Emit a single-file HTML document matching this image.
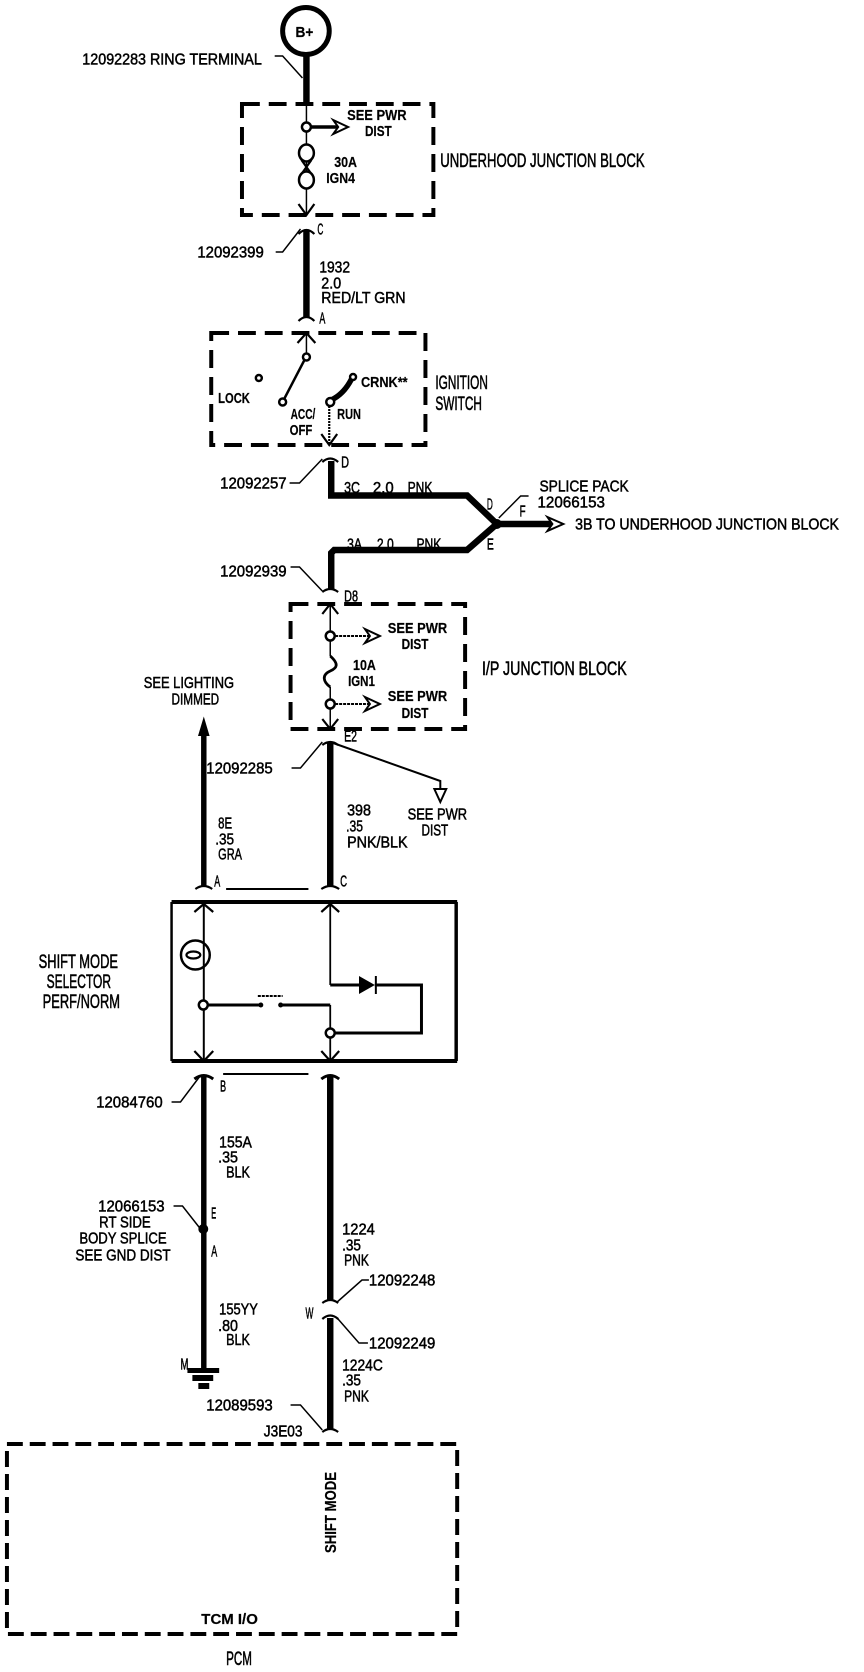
<!DOCTYPE html>
<html><head><meta charset="utf-8"><style>
html,body{margin:0;padding:0;background:#fff}
svg{display:block}
text{font-family:"Liberation Sans",sans-serif;fill:#000}
.n text{font-size:15.5px;stroke:#000;stroke-width:.5}
.l text{font-size:19.5px;stroke:#000;stroke-width:.55}
.b text{font-size:15px;font-weight:bold;stroke:#000;stroke-width:.2}
.w{stroke:#000;stroke-width:6.5;fill:none}
.m{stroke:#000;stroke-width:3;fill:none}
.t{stroke:#000;stroke-width:1.5;fill:none}
.c{stroke:#000;stroke-width:2.2;fill:none}
.d{stroke:#000;stroke-width:4;fill:none;stroke-dasharray:18 9}
.o{stroke:#000;stroke-width:2.5;fill:#fff}
.h{stroke:#000;stroke-width:2;fill:#fff}
</style></head><body>
<svg width="864" height="1672" viewBox="0 0 864 1672" xmlns="http://www.w3.org/2000/svg">
<rect width="864" height="1672" fill="#fff"/>
<g transform="scale(.9917 1)">

<!-- boxes -->
<rect x="244" y="104" width="193" height="111" class="d"/>
<rect x="213" y="333" width="216" height="112" class="d"/>
<rect x="293" y="604" width="176" height="125" class="d"/>
<rect x="7" y="1444" width="454" height="190" class="d" style="stroke-dasharray:16 7"/>
<path d="M173 902H461" stroke="#000" stroke-width="4"/>
<path d="M173 1061H461" stroke="#000" stroke-width="4"/>
<path d="M460 902V1061" stroke="#000" stroke-width="3.5"/>
<path d="M173 902V1061" stroke="#000" stroke-width="2.5"/>

<!-- top -->
<circle cx="308.5" cy="31" r="23.5" fill="#fff" stroke="#000" stroke-width="5"/>
<path class="w" d="M309 55V105"/>
<path class="t" d="M277 56H285L305 78"/>
<path class="t" d="M309 104V216"/>
<path class="c" d="M301 204L309 215L317 204"/>
<circle cx="309" cy="127" r="4.5" class="o"/>
<path class="m" style="stroke-width:3.5" d="M314 127H340"/>
<path class="h" d="M336 120L351 127L336 134L341 127Z"/>
<path class="c" d="M304 160L314 174M314 160L304 174"/>
<ellipse cx="309" cy="153" rx="7.5" ry="8.5" class="o"/>
<ellipse cx="309" cy="180" rx="7.5" ry="8.5" class="o"/>

<!-- 1932 -->
<path class="w" d="M309 231V318"/>
<path class="c" d="M301 234Q309 226 317 234M301 321Q309 313 317 321"/>
<path class="t" d="M278 252H285L303 229"/>

<!-- ignition -->
<path class="t" d="M309 334V357"/>
<path class="c" d="M300 343L309 333L318 343"/>
<path class="m" style="stroke-width:2.5" d="M307 360L286 400"/>
<circle cx="309" cy="357" r="3.5" class="o"/>
<circle cx="285" cy="402" r="3.5" class="o"/>
<circle cx="261" cy="378" r="3" class="o"/>
<path class="w" style="stroke-width:5.5" d="M334 400Q347 394 355 378"/>
<circle cx="333" cy="402" r="4" class="o"/>
<circle cx="356" cy="377" r="3" class="o"/>
<path class="t" style="stroke-width:2.2" stroke-dasharray="2 1" d="M332 406V445"/>
<path class="c" d="M324 434L332 445L340 434"/>

<!-- 3C / 3A splice -->
<path class="w" d="M334 461V495.5H471L501 524L471 550H337L334 553V590"/>
<path class="w" d="M501 524H556"/>
<circle cx="501" cy="524" r="5" fill="#000"/>
<path class="h" d="M552 517L568 524L552 531L557 524Z"/>
<path class="c" d="M325 462Q333 455 341 462"/>
<path class="t" d="M292 483H302L325 459"/>
<path class="t" d="M533 496H525L503 518"/>
<path class="c" d="M325 592Q333 586 341 592"/>
<path class="t" d="M293 567H302L325 591"/>

<!-- I/P block -->
<path class="t" d="M333 605V656M333 687V729"/>
<path class="c" d="M325 614L333 604L341 614M325 719L333 729L341 719"/>
<circle cx="333" cy="636" r="4.5" class="o"/>
<circle cx="333" cy="704" r="4.5" class="o"/>
<path class="t" style="stroke-width:2" d="M338 636H372M338 704H372" stroke-dasharray="3 1"/>
<path class="h" d="M368 629L383 636L368 643L373 636ZM368 697L383 704L368 711L373 704Z"/>
<path class="t" style="stroke-width:2.8" d="M333 656C342 664 340 668 333 671C324 675 326 682 333 687"/>

<!-- wires mid -->
<path class="w" d="M333 743V886"/>
<path class="c" d="M325 745Q333 739 341 745M324 889Q333 883 342 889"/>
<path class="t" d="M294 768H303L325 742"/>
<path class="t" style="stroke-width:2" d="M333 742L444 781V790"/>
<path class="h" d="M438 789H450L444 802Z"/>
<path class="w" style="stroke-width:5.5" d="M205.5 733V886"/>
<path class="h" style="fill:#000" d="M205.5 720L201 735H210Z"/>
<path class="c" d="M197 889Q205.5 883 214 889"/>
<path class="m" d="M228 889H311" style="stroke-width:2"/>

<!-- selector internals -->
<path class="t" style="stroke-width:2" d="M205.5 903V1061"/>
<path class="c" d="M196 912L205.5 904L215 912M196 1051L205.5 1061L215 1051"/>
<path class="t" style="stroke-width:1.8" d="M333 904V985M333 1005V1061"/>
<path class="c" d="M324 912L333 904L342 912M324 1051L333 1061L342 1051"/>
<circle cx="197" cy="955" r="14.5" fill="none" stroke="#000" stroke-width="2.5"/>
<ellipse cx="195" cy="955" rx="7" ry="3.5" fill="none" stroke="#000" stroke-width="2.2"/>
<circle cx="205" cy="1005" r="4.5" class="o"/>
<path class="m" d="M209 1005H262M284 1005H333"/>
<circle cx="263" cy="1005" r="2.5" fill="#000"/>
<circle cx="283" cy="1005" r="2.5" fill="#000"/>
<path class="m" stroke-dasharray="3 1" d="M260 996H285" style="stroke-width:2"/>
<path class="m" d="M333 985H362M378 985H425V1033H338"/>
<path d="M362 976L378 985L362 994Z" fill="#000"/>
<path class="m" style="stroke-width:2" d="M379 976V994"/>
<circle cx="333" cy="1033" r="4.5" class="o"/>

<!-- lower wires -->
<path class="w" style="stroke-width:5.5" d="M205.5 1075V1370"/>
<path class="w" d="M333 1075V1301M333 1318V1429"/>
<path class="m" d="M196 1079Q205.5 1072 215 1079M324 1079Q333 1072 342 1079"/>
<path class="m" style="stroke-width:2" d="M225 1074H311"/>
<path class="t" d="M173 1102H182L201 1077"/>
<circle cx="205" cy="1229" r="5" fill="#000"/>
<path class="t" d="M175 1206H184L203 1230"/>
<rect x="189" y="1368" width="32" height="5" fill="#000"/>
<rect x="194" y="1375" width="21" height="6" fill="#000"/>
<rect x="200" y="1383" width="11" height="6" fill="#000"/>
<path class="c" d="M325 1303Q333 1297 341 1303M325 1319Q333 1312 341 1319M325 1432Q333 1426 341 1432"/>
<path class="t" d="M372 1280H365L340 1302"/>
<path class="t" d="M371 1343H362L340 1318"/>
<path class="t" d="M293 1405H303L325 1430"/>

<!-- regular labels -->
<g class="n">
<text x="83" y="64.5" textLength="181" lengthAdjust="spacingAndGlyphs">12092283 RING TERMINAL</text>
<text x="199" y="257.5" textLength="67" lengthAdjust="spacingAndGlyphs">12092399</text>
<text x="320" y="234.5" textLength="6" lengthAdjust="spacingAndGlyphs">C</text>
<text x="322" y="272.5" textLength="31" lengthAdjust="spacingAndGlyphs">1932</text>
<text x="324" y="288.5" textLength="20" lengthAdjust="spacingAndGlyphs">2.0</text>
<text x="324" y="303" textLength="85" lengthAdjust="spacingAndGlyphs">RED/LT GRN</text>
<text x="322" y="323.5" textLength="6" lengthAdjust="spacingAndGlyphs">A</text>
<text x="344" y="467.5" textLength="8" lengthAdjust="spacingAndGlyphs">D</text>
<text x="222" y="488.5" textLength="67" lengthAdjust="spacingAndGlyphs">12092257</text>
<text x="347" y="493" textLength="16" lengthAdjust="spacingAndGlyphs">3C</text>
<text x="376" y="493" textLength="21" lengthAdjust="spacingAndGlyphs">2.0</text>
<text x="411" y="493" textLength="25" lengthAdjust="spacingAndGlyphs">PNK</text>
<text x="491" y="509.5" textLength="6" lengthAdjust="spacingAndGlyphs">D</text>
<text x="544" y="491.5" textLength="90" lengthAdjust="spacingAndGlyphs">SPLICE PACK</text>
<text x="542" y="507.5" textLength="68" lengthAdjust="spacingAndGlyphs">12066153</text>
<text x="524" y="516.5" textLength="6" lengthAdjust="spacingAndGlyphs">F</text>
<text x="580" y="529.5" textLength="266" lengthAdjust="spacingAndGlyphs">3B TO UNDERHOOD JUNCTION BLOCK</text>
<text x="491" y="549.5" textLength="7" lengthAdjust="spacingAndGlyphs">E</text>
<text x="350" y="549.5" textLength="15" lengthAdjust="spacingAndGlyphs">3A</text>
<text x="380" y="549.5" textLength="17" lengthAdjust="spacingAndGlyphs">2.0</text>
<text x="420" y="549.5" textLength="25" lengthAdjust="spacingAndGlyphs">PNK</text>
<text x="222" y="576.5" textLength="67" lengthAdjust="spacingAndGlyphs">12092939</text>
<text x="347" y="601.5" textLength="14" lengthAdjust="spacingAndGlyphs">D8</text>
<text x="347" y="741.5" textLength="13" lengthAdjust="spacingAndGlyphs">E2</text>
<text x="208" y="773.5" textLength="67" lengthAdjust="spacingAndGlyphs">12092285</text>
<text x="145" y="688" textLength="91" lengthAdjust="spacingAndGlyphs">SEE LIGHTING</text>
<text x="173" y="704.5" textLength="48" lengthAdjust="spacingAndGlyphs">DIMMED</text>
<text x="411" y="819.5" textLength="60" lengthAdjust="spacingAndGlyphs">SEE PWR</text>
<text x="425" y="835.5" textLength="27" lengthAdjust="spacingAndGlyphs">DIST</text>
<text x="350" y="815.5" textLength="24" lengthAdjust="spacingAndGlyphs">398</text>
<text x="349" y="831.5" textLength="17" lengthAdjust="spacingAndGlyphs">.35</text>
<text x="350" y="847.5" textLength="61" lengthAdjust="spacingAndGlyphs">PNK/BLK</text>
<text x="220" y="828.5" textLength="14" lengthAdjust="spacingAndGlyphs">8E</text>
<text x="217" y="844.5" textLength="19" lengthAdjust="spacingAndGlyphs">.35</text>
<text x="220" y="859.5" textLength="24" lengthAdjust="spacingAndGlyphs">GRA</text>
<text x="216" y="886.5" textLength="6" lengthAdjust="spacingAndGlyphs">A</text>
<text x="343" y="886.5" textLength="7" lengthAdjust="spacingAndGlyphs">C</text>
<text x="222" y="1091.5" textLength="6" lengthAdjust="spacingAndGlyphs">B</text>
<text x="97" y="1107.5" textLength="67" lengthAdjust="spacingAndGlyphs">12084760</text>
<text x="221" y="1147.5" textLength="33" lengthAdjust="spacingAndGlyphs">155A</text>
<text x="220" y="1162.5" textLength="20" lengthAdjust="spacingAndGlyphs">.35</text>
<text x="228" y="1177.5" textLength="24" lengthAdjust="spacingAndGlyphs">BLK</text>
<text x="99" y="1211.5" textLength="67" lengthAdjust="spacingAndGlyphs">12066153</text>
<text x="100" y="1227.5" textLength="52" lengthAdjust="spacingAndGlyphs">RT SIDE</text>
<text x="80" y="1243.5" textLength="88" lengthAdjust="spacingAndGlyphs">BODY SPLICE</text>
<text x="76" y="1260.5" textLength="96" lengthAdjust="spacingAndGlyphs">SEE GND DIST</text>
<text x="213" y="1218.5" textLength="5" lengthAdjust="spacingAndGlyphs">E</text>
<text x="213" y="1256.5" textLength="6" lengthAdjust="spacingAndGlyphs">A</text>
<text x="221" y="1314.5" textLength="39" lengthAdjust="spacingAndGlyphs">155YY</text>
<text x="220" y="1331" textLength="20" lengthAdjust="spacingAndGlyphs">.80</text>
<text x="228" y="1345" textLength="24" lengthAdjust="spacingAndGlyphs">BLK</text>
<text x="182" y="1369.5" textLength="8" lengthAdjust="spacingAndGlyphs">M</text>
<text x="345" y="1234.5" textLength="33" lengthAdjust="spacingAndGlyphs">1224</text>
<text x="345" y="1250.5" textLength="19" lengthAdjust="spacingAndGlyphs">.35</text>
<text x="347" y="1265.5" textLength="25" lengthAdjust="spacingAndGlyphs">PNK</text>
<text x="372" y="1285.5" textLength="67" lengthAdjust="spacingAndGlyphs">12092248</text>
<text x="308" y="1318.5" textLength="8" lengthAdjust="spacingAndGlyphs">W</text>
<text x="372" y="1348.5" textLength="67" lengthAdjust="spacingAndGlyphs">12092249</text>
<text x="345" y="1370.5" textLength="41" lengthAdjust="spacingAndGlyphs">1224C</text>
<text x="345" y="1385.5" textLength="19" lengthAdjust="spacingAndGlyphs">.35</text>
<text x="347" y="1401.5" textLength="25" lengthAdjust="spacingAndGlyphs">PNK</text>
<text x="208" y="1410.5" textLength="67" lengthAdjust="spacingAndGlyphs">12089593</text>
<text x="266" y="1436.5" textLength="39" lengthAdjust="spacingAndGlyphs">J3E03</text>
</g>

<!-- large labels -->
<g class="l">
<text x="444" y="167" textLength="206" lengthAdjust="spacingAndGlyphs">UNDERHOOD JUNCTION BLOCK</text>
<text x="439" y="389" textLength="53" lengthAdjust="spacingAndGlyphs">IGNITION</text>
<text x="439" y="410" textLength="47" lengthAdjust="spacingAndGlyphs">SWITCH</text>
<text x="486" y="675" textLength="146" lengthAdjust="spacingAndGlyphs">I/P JUNCTION BLOCK</text>
<text x="39" y="968" textLength="80" lengthAdjust="spacingAndGlyphs">SHIFT MODE</text>
<text x="47" y="988" textLength="65" lengthAdjust="spacingAndGlyphs">SELECTOR</text>
<text x="43" y="1008" textLength="78" lengthAdjust="spacingAndGlyphs">PERF/NORM</text>
<text x="228" y="1665" textLength="26" lengthAdjust="spacingAndGlyphs">PCM</text>
</g>

<!-- bold small labels -->
<g class="b">
<text x="350" y="120" textLength="60" lengthAdjust="spacingAndGlyphs">SEE PWR</text>
<text x="368" y="136" textLength="27" lengthAdjust="spacingAndGlyphs">DIST</text>
<text x="337" y="167" textLength="23" lengthAdjust="spacingAndGlyphs">30A</text>
<text x="329" y="183" textLength="29" lengthAdjust="spacingAndGlyphs">IGN4</text>
<text x="220" y="403" textLength="32" lengthAdjust="spacingAndGlyphs">LOCK</text>
<text x="293" y="419" textLength="25" lengthAdjust="spacingAndGlyphs">ACC/</text>
<text x="292" y="435" textLength="23" lengthAdjust="spacingAndGlyphs">OFF</text>
<text x="340" y="419" textLength="24" lengthAdjust="spacingAndGlyphs">RUN</text>
<text x="364" y="387" textLength="47" lengthAdjust="spacingAndGlyphs">CRNK**</text>
<text x="391" y="633" textLength="60" lengthAdjust="spacingAndGlyphs">SEE PWR</text>
<text x="405" y="649" textLength="27" lengthAdjust="spacingAndGlyphs">DIST</text>
<text x="356" y="670" textLength="23" lengthAdjust="spacingAndGlyphs">10A</text>
<text x="351" y="686" textLength="27" lengthAdjust="spacingAndGlyphs">IGN1</text>
<text x="391" y="701" textLength="60" lengthAdjust="spacingAndGlyphs">SEE PWR</text>
<text x="405" y="718" textLength="27" lengthAdjust="spacingAndGlyphs">DIST</text>
<text x="203" y="1624" textLength="57" lengthAdjust="spacingAndGlyphs">TCM I/O</text>
<text transform="translate(339 1553) rotate(-90)" x="0" y="0" textLength="81" lengthAdjust="spacingAndGlyphs" style="font-size:16px">SHIFT MODE</text>
<text x="298" y="37" textLength="18" lengthAdjust="spacingAndGlyphs" style="font-size:15px">B+</text>
</g>
</g>
</svg>
</body></html>
